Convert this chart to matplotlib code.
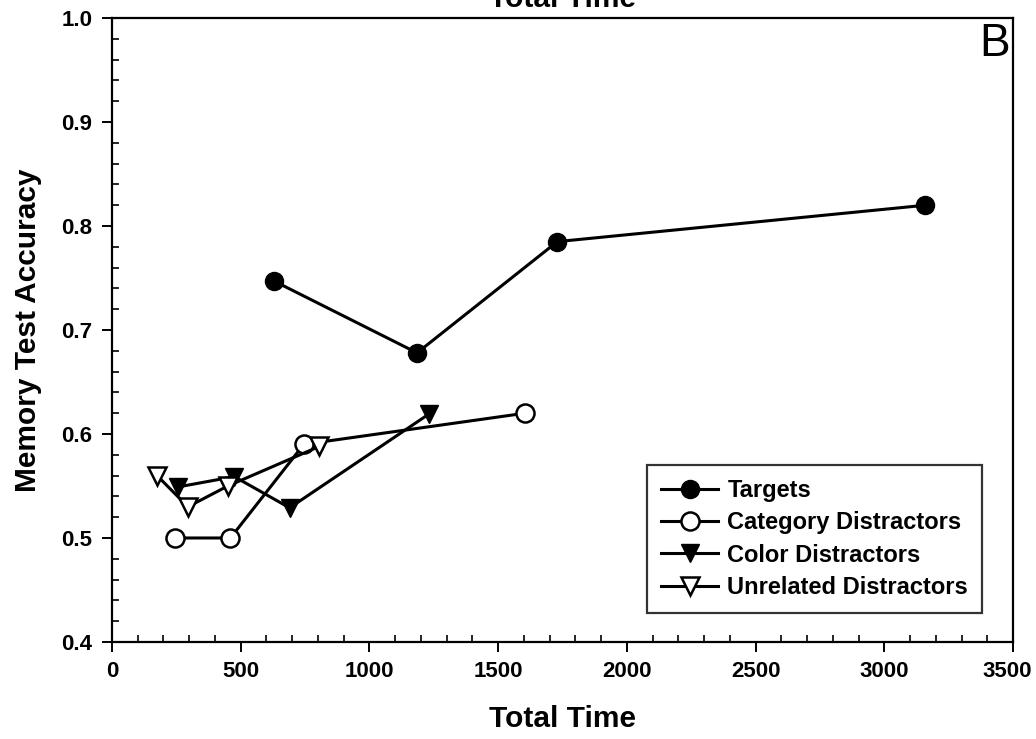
import matplotlib
matplotlib.use("Agg")
import matplotlib.pyplot as plt
import matplotlib.transforms as mtransforms
from matplotlib.ticker import MultipleLocator

# values
targets_x = [630, 1185, 1730, 3160]
targets_y = [0.747, 0.678, 0.785, 0.820]
category_x = [245, 460, 745, 1605]
category_y = [0.50, 0.50, 0.59, 0.62]
color_x = [255, 475, 690, 1230]
color_y = [0.549, 0.559, 0.529, 0.619]
unrelated_x = [175, 295, 450, 805]
unrelated_y = [0.56, 0.53, 0.55, 0.588]
xticks = [0, 500, 1000, 1500, 2000, 2500, 3000, 3500]

plt.rcParams['font.family'] = ['Liberation Sans', 'DejaVu Sans']
plt.rcParams['font.weight'] = 'bold'

fig = plt.figure(figsize=(10.36, 7.39), dpi=100)
ax = fig.add_axes([0.1081, 0.1313, 0.8697, 0.8443])

lw = 2.2
ms = 13
ax.plot(targets_x, targets_y, '-o', color='black', lw=lw, ms=ms,
        mfc='black', mec='black', label='Targets')
ax.plot(category_x, category_y, '-o', color='black', lw=lw, ms=ms,
        mfc='white', mec='black', mew=1.8, label='Category Distractors')
ax.plot(color_x, color_y, '-v', color='black', lw=lw, ms=ms,
        mfc='black', mec='black', label='Color Distractors')
ax.plot(unrelated_x, unrelated_y, '-v', color='black', lw=lw, ms=ms,
        mfc='white', mec='black', mew=1.8, label='Unrelated Distractors')

ax.set_xlim(0, 3500)
ax.set_ylim(0.4, 1.0)
ax.set_xticks(xticks)
ax.xaxis.set_minor_locator(MultipleLocator(100))
ax.yaxis.set_major_locator(MultipleLocator(0.1))
ax.yaxis.set_minor_locator(MultipleLocator(0.02))
ax.yaxis.set_major_formatter(matplotlib.ticker.FormatStrFormatter('%.1f'))

ax.tick_params(which='major', direction='out', length=7, width=1.4,
               labelsize=16, pad=7)
ax.tick_params(which='minor', direction='in', length=5, width=1.2)
for s in ax.spines.values():
    s.set_linewidth(1.6)

# nudge the last x label so it stays inside the picture
last = ax.get_xticklabels()[-1]
last.set_transform(last.get_transform() +
                   mtransforms.ScaledTranslation(-6 / 100, 0, fig.dpi_scale_trans))

ax.set_xlabel('Total Time', fontsize=21.5, fontweight='bold', labelpad=16)
ax.set_ylabel('Memory Test Accuracy', fontsize=21.5, fontweight='bold', labelpad=14)

# title cut off at the top of the picture
fig.text(0.543, 0.991, 'Total Time', fontsize=21.5, fontweight='bold',
         ha='center', va='baseline')
ax.text(0.997, 0.993, 'B', transform=ax.transAxes, fontsize=33,
        fontweight='normal', ha='right', va='top')

leg = ax.legend(loc='lower right', bbox_to_anchor=(0.966, 0.046),
                fontsize=17, frameon=True, fancybox=False, edgecolor='black',
                handlelength=2.4, handletextpad=0.4, labelspacing=0.4,
                borderpad=0.6, borderaxespad=0)
leg.get_frame().set_linewidth(1.6)
for t in leg.get_texts():
    t.set_fontweight('bold')

fig.savefig('out.png', dpi=100)
